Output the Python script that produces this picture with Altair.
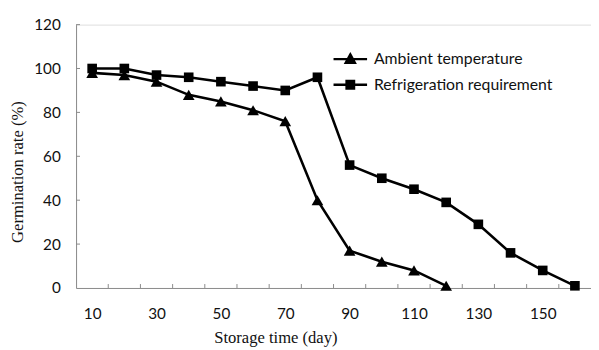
import altair as alt
import pandas as pd

# ---- data ----
days = [10, 20, 30, 40, 50, 60, 70, 80, 90, 100, 110, 120, 130, 140, 150, 160]
ambient = [98, 97, 94, 88, 85, 81, 76, 40, 17, 12, 8, 1]
refrigeration = [100, 100, 97, 96, 94, 92, 90, 96, 56, 50, 45, 39, 29, 16, 8, 1]
series_names = ["Ambient temperature", "Refrigeration requirement"]
x_labels = [10, 30, 50, 70, 90, 110, 130, 150]
y_labels = [0, 20, 40, 60, 80, 100, 120]
x_tick_marks = [15, 25, 35, 45, 55, 65, 75, 85, 95, 105, 115, 125, 135, 145, 155]
y_tick_marks = [20, 40, 60, 80, 100, 120]

rows = []
for d, v in zip(days, ambient):
    rows.append({"day": d, "rate": v, "series": series_names[0]})
for d, v in zip(days, refrigeration):
    rows.append({"day": d, "rate": v, "series": series_names[1]})
df = pd.DataFrame(rows)
tick_x_df = pd.DataFrame({"day": x_tick_marks})
tick_y_df = pd.DataFrame({"rate": y_tick_marks})

W, H = 522, 267
LABEL_FONT = "Lato"
TITLE_FONT = "Liberation Serif"

xscale = alt.Scale(domain=[5, 165], nice=False, zero=False)
yscale = alt.Scale(domain=[0, 120], nice=False)

x_axis = alt.Axis(
    values=x_labels, ticks=False, grid=False, domainColor="#8a8a8a", domainWidth=1,
    labelFont=LABEL_FONT, labelFontSize=15.5, labelColor="#111", labelPadding=19,
    title="Storage time (day)", titleFont=TITLE_FONT, titleFontSize=16.8,
    titleFontWeight="normal", titleColor="#111", titleX=202, titleY=50,
    titleAnchor="middle", titleBaseline="middle", titleAlign="center",
)
y_axis = alt.Axis(
    values=y_labels, ticks=False, grid=False, domainColor="#8a8a8a", domainWidth=1,
    labelFont=LABEL_FONT, labelFontSize=15.5, labelColor="#111", labelPadding=16,
    title="Germination rate (%)", titleFont=TITLE_FONT, titleFontSize=16.8,
    titleFontWeight="normal", titleColor="#111", titleX=-59, titleY=149,
    titleAngle=270, titleBaseline="middle", titleAlign="center",
)

X = alt.X("day:Q", scale=xscale, axis=x_axis)
Y = alt.Y("rate:Q", scale=yscale, axis=y_axis)

base = alt.Chart(df)

lines = base.mark_line(color="black", strokeWidth=2.6).encode(
    x=X, y=Y, detail="series:N",
)

points = base.mark_point(filled=True, opacity=1, color="black").encode(
    x=X, y=Y,
    shape=alt.Shape("series:N", scale=alt.Scale(domain=series_names,
                                                range=["triangle-up", "square"]),
                    legend=None),
    size=alt.Size("series:N", scale=alt.Scale(domain=series_names, range=[140, 95]),
                  legend=None),
)

# legend glyphs: a horizontal line with the marker on it (outline + nested
# shapes so the marker reads as solid even when only stroked)
tri_path = ("M-3.4,0H3.4"
            "M0,-0.95L0.93,0.75L-0.93,0.75Z"
            "M0,-0.45L0.45,0.4L-0.45,0.4Z")
sq_path = ("M-3.4,0H3.4"
           "M-0.76,-0.76H0.76V0.76H-0.76Z"
           "M-0.35,-0.35H0.35V0.35H-0.35Z")

legend_layer = base.transform_filter("false").mark_point(
    filled=False, color="black", strokeWidth=2.4, opacity=1
).encode(
    x=X, y=Y,
    shape=alt.Shape(
        "series:N",
        scale=alt.Scale(domain=series_names, range=[tri_path, sq_path]),
        legend=alt.Legend(
            title=None, orient="none", legendX=270, legendY=27, padding=0,
            symbolSize=100, symbolFillColor="black", symbolStrokeColor="black",
            symbolStrokeWidth=2.4, symbolOpacity=1,
            labelFont=LABEL_FONT, labelFontSize=16, labelColor="#111",
            labelOffset=16, rowPadding=8, labelLimit=400,
        ),
    ),
)

x_ticks = alt.Chart(tick_x_df).mark_rule(color="#8a8a8a", strokeWidth=1).encode(
    x=X, y=alt.value(H), y2=alt.value(H - 4),
)
y_ticks = alt.Chart(tick_y_df).mark_rule(color="#8a8a8a", strokeWidth=1).encode(
    y=Y, x=alt.value(0), x2=alt.value(4),
)

chart = alt.layer(lines, x_ticks, y_ticks, points, legend_layer).resolve_scale(
    shape="independent", size="independent"
).properties(
    width=W, height=H,
    autosize=alt.AutoSizeParams(type="none"),
    padding={"left": 69, "top": 14.5, "right": 0, "bottom": 58},
).configure_view(stroke=None).configure(background="white")

chart.save("out.html", embed_options={"renderer": "svg", "actions": False})
